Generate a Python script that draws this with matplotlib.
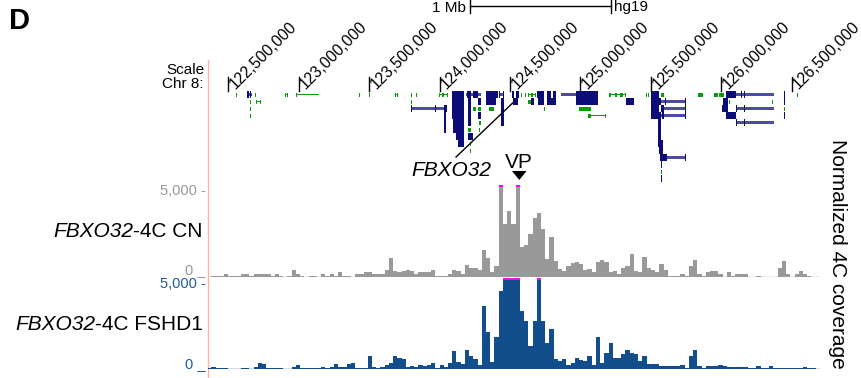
import numpy as np
import matplotlib.pyplot as plt
from matplotlib.transforms import offset_copy

plt.rcParams["font.family"] = "Liberation Sans"

# chr8 window (Mb, hg19)
view_start, view_end = 122.356, 126.701
bin_size = 0.03
bin_first = 122.35
vp_pos = 124.566

tick_pos = [122.5, 123.0, 123.5, 124.0, 124.5, 125.0, 125.5, 126.0, 126.5]
tick_labels = ["122,500,000", "123,000,000", "123,500,000", "124,000,000",
               "124,500,000", "125,000,000", "125,500,000", "126,000,000",
               "126,500,000"]

# normalized 4C coverage per 30 kb bin (values above 5000 are clipped)
cn_cov = [
    0, 60, 60, 60, 170, 60, 60, 60, 120, 120,
    60, 170, 120, 120, 170, 60, 120, 60, 0, 60,
    350, 170, 60, 0, 60, 60, 0, 120, 60, 170,
    60, 230, 60, 60, 0, 120, 120, 230, 230, 170,
    120, 170, 350, 1040, 290, 230, 290, 350, 290, 170,
    230, 230, 230, 350, 60, 60, 60, 170, 350, 290,
    170, 640, 460, 460, 350, 1450, 1040, 230, 580, 5600,
    2900, 3600, 2900, 5600, 1620, 1740, 2320, 3190, 3480, 2610,
    990, 2150, 870, 410, 290, 580, 750, 810, 700, 350,
    410, 230, 810, 930, 810, 230, 290, 170, 460, 580,
    1220, 290, 230, 1100, 460, 350, 230, 700, 350, 60,
    60, 60, 120, 60, 580, 930, 120, 60, 230, 290,
    290, 120, 0, 230, 60, 120, 120, 120, 0, 0,
    60, 0, 0, 0, 0, 460, 870, 170, 0, 120,
    290, 120, 60, 0, 0,
]
fshd_cov = [
    60, 120, 60, 60, 60, 0, 0, 0, 60, 60,
    0, 120, 350, 290, 60, 60, 60, 60, 0, 0,
    120, 230, 60, 60, 60, 60, 60, 120, 60, 120,
    290, 120, 120, 290, 350, 60, 60, 60, 700, 120,
    60, 120, 230, 350, 750, 640, 580, 120, 170, 120,
    230, 170, 230, 350, 60, 230, 120, 350, 990, 410,
    290, 1040, 700, 580, 230, 3480, 2030, 410, 1740, 4300,
    5600, 5600, 5600, 5600, 3190, 2610, 1280, 2610, 5600, 2610,
    1450, 2200, 580, 460, 580, 230, 350, 640, 520, 460,
    750, 230, 1740, 350, 870, 1450, 640, 640, 810, 1040,
    870, 810, 460, 700, 290, 290, 290, 170, 170, 170,
    170, 170, 230, 60, 700, 1040, 170, 60, 170, 170,
    170, 230, 170, 120, 120, 120, 120, 120, 60, 60,
    170, 60, 60, 170, 60, 60, 60, 60, 60, 60,
    60, 120, 60, 60, 0,
]

# gene annotation features: (start Mb, end Mb, row)
blue_exons = [
    (122.631, 122.647, 0), (122.657, 122.661, 0), (124.086, 124.176, 0),
    (124.198, 124.223, 0), (124.236, 124.271, 0), (124.330, 124.413, 0),
    (124.424, 124.428, 0), (124.450, 124.460, 0), (124.514, 124.530, 0),
    (124.540, 124.562, 0), (124.692, 124.745, 0), (124.760, 124.790, 0),
    (124.805, 124.827, 0), (124.969, 125.123, 0), (125.501, 125.560, 0),
    (126.034, 126.105, 0), (126.140, 126.145, 0), (126.160, 126.165, 0),
    (126.372, 126.377, 0), (126.446, 126.450, 0),
    (124.031, 124.035, 1), (124.045, 124.049, 1), (124.086, 124.176, 1),
    (124.200, 124.223, 1), (124.270, 124.294, 1), (124.330, 124.401, 1),
    (124.436, 124.460, 1), (124.519, 124.555, 1), (124.649, 124.673, 1),
    (124.697, 124.745, 1), (124.760, 124.827, 1), (124.969, 125.123, 1),
    (125.324, 125.382, 1), (125.501, 125.572, 1), (125.600, 125.606, 1),
    (125.744, 125.750, 1), (126.010, 126.046, 1), (126.446, 126.450, 1),
    (123.800, 123.804, 2), (123.970, 123.975, 2), (124.028, 124.053, 2),
    (124.086, 124.176, 2), (124.200, 124.223, 2), (124.436, 124.460, 2),
    (125.501, 125.560, 2), (125.572, 125.595, 2), (125.744, 125.750, 2),
    (126.005, 126.046, 2), (126.105, 126.109, 2), (126.160, 126.165, 2),
    (126.372, 126.377, 2),
    (124.031, 124.049, 3), (124.086, 124.176, 3), (124.200, 124.223, 3),
    (124.271, 124.294, 3), (124.436, 124.460, 3), (125.501, 125.572, 3),
    (125.578, 125.595, 3), (125.744, 125.750, 3), (126.034, 126.105, 3),
    (126.446, 126.450, 3),
    (124.031, 124.046, 4), (124.093, 124.176, 4), (124.200, 124.223, 4),
    (124.436, 124.460, 4), (125.549, 125.572, 4), (126.105, 126.109, 4),
    (126.160, 126.165, 4), (126.372, 126.377, 4),
    (124.031, 124.046, 5), (124.093, 124.176, 5), (125.549, 125.572, 5),
    (124.117, 124.176, 6), (124.200, 124.236, 6), (125.549, 125.572, 6),
    (124.130, 124.176, 7), (125.549, 125.584, 7),
    (125.560, 125.584, 8), (125.567, 125.615, 9), (125.744, 125.750, 9),
    (125.570, 125.576, 10), (125.570, 125.576, 12),
]
blue_introns = [
    (122.647, 122.666, 0), (124.188, 124.294, 0), (124.424, 124.460, 0),
    (124.862, 124.969, 0), (126.105, 126.377, 0),
    (125.572, 125.750, 1),
    (123.802, 124.031, 2), (125.572, 125.750, 2), (126.105, 126.377, 2),
    (125.572, 125.750, 3), (126.105, 126.377, 4), (125.615, 125.750, 9),
]
green_exons = [
    (122.556, 122.560, 0), (122.693, 122.699, 0), (122.903, 122.907, 0),
    (122.918, 122.922, 0), (122.979, 122.985, 0), (122.993, 122.997, 0),
    (123.142, 123.146, 0), (123.428, 123.432, 0), (123.440, 123.444, 0),
    (123.499, 123.503, 0), (123.684, 123.688, 0), (123.690, 123.694, 0),
    (123.701, 123.705, 0), (123.800, 123.804, 0), (123.830, 123.838, 0),
    (123.859, 123.863, 0), (123.998, 124.002, 0), (124.020, 124.030, 0),
    (124.050, 124.058, 0), (124.578, 124.582, 0), (124.605, 124.614, 0),
    (124.626, 124.632, 0), (124.650, 124.662, 0), (124.680, 124.685, 0),
    (125.205, 125.215, 0), (125.245, 125.260, 0), (125.280, 125.300, 0),
    (125.318, 125.324, 0), (125.466, 125.470, 0), (125.480, 125.489, 0),
    (125.575, 125.596, 0), (125.833, 125.868, 0), (125.951, 125.974, 0),
    (125.986, 126.022, 0), (126.541, 126.545, 0),
    (122.657, 122.663, 1), (122.697, 122.701, 1), (122.726, 122.730, 1),
    (123.683, 123.687, 1), (123.717, 123.721, 1), (123.800, 123.804, 1),
    (124.626, 124.649, 1), (124.944, 124.948, 1), (125.464, 125.468, 1),
    (125.960, 125.964, 1), (126.055, 126.059, 1), (126.103, 126.107, 1),
    (126.280, 126.284, 1), (126.363, 126.367, 1),
    (122.657, 122.661, 2), (124.236, 124.259, 2), (124.271, 124.294, 2),
    (124.353, 124.389, 2), (124.742, 124.746, 2), (124.992, 125.075, 2),
    (126.446, 126.450, 2),
    (122.657, 122.661, 3), (125.052, 125.075, 3), (125.178, 125.182, 3),
    (122.660, 122.663, 4), (124.282, 124.294, 4),
    (124.200, 124.223, 5), (124.282, 124.286, 5),
    (124.216, 124.220, 7), (124.216, 124.220, 8), (125.570, 125.576, 11),
]
green_introns = [
    (122.903, 122.922, 0), (122.979, 123.146, 0), (123.684, 123.705, 0),
    (123.998, 124.058, 0), (124.626, 124.685, 0), (125.205, 125.324, 0),
    (122.697, 122.730, 1), (125.052, 125.182, 3),
]

W, H = 862, 378
GRAY = "#999999"
BLUE = "#124e8c"
BLUE_TXT = "#1f5c9a"
NAVY = "#0c0c78"
GREEN = "#0b9a0b"
MAGENTA = "#ff00ff"


def box(l, t, r, b):
    # pixel box -> figure fraction
    return [l / W, 1 - b / H, (r - l) / W, (b - t) / H]


fig = plt.figure(figsize=(W / 100, H / 100), dpi=100)
renderer = fig.canvas.get_renderer()

# overlay for free text, in pixels
ax0 = fig.add_axes([0, 0, 1, 1])
ax0.set_xlim(0, W)
ax0.set_ylim(H, 0)
ax0.axis("off")

ax0.text(20, 21, "D", fontsize=21, fontweight="bold", ha="center", va="center")
ax0.plot([208, 208], [60, H], color="#ffb0b0", lw=1)

# scale bar
ax0.plot([470, 611], [6, 6], color="black", lw=1)
ax0.plot([470, 470], [0, 13], color="black", lw=1)
ax0.plot([611, 611], [0, 13], color="black", lw=1)
ax0.text(466, 11.5, "1 Mb", fontsize=11, ha="right", va="baseline")
ax0.text(614, 11.5, "hg19", fontsize=11, ha="left", va="baseline")

ax0.text(204, 74, "Scale", fontsize=11, ha="right", va="baseline")
ax0.text(204, 88.5, "Chr 8:", fontsize=11, ha="right", va="baseline")


def track_label(x, y, ital, rest):
    t = ax0.text(x, y, rest, fontsize=15, ha="right", va="center")
    w = t.get_window_extent(renderer).width
    ax0.text(x - w, y, ital, fontsize=15, style="italic", ha="right", va="center")


ax0.text(206, 191, "5,000 -", fontsize=10.5, color=GRAY, ha="right", va="center")
ax0.text(206, 274.5, "0 _", fontsize=10.5, color=GRAY, ha="right", va="baseline")
track_label(203, 231.5, "FBXO32", "-4C CN")
ax0.text(206, 284, "5,000 -", fontsize=10.5, color=BLUE_TXT, ha="right", va="center")
ax0.text(206, 368, "0 _", fontsize=10.5, color=BLUE_TXT, ha="right", va="baseline")
track_label(203, 325, "FBXO32", "-4C FSHD1")
ax0.text(838, 253.5, "Normalized 4C coverage", fontsize=15, rotation=-90,
         ha="center", va="center")

# gene track (y in pixel rows)
ag = fig.add_axes(box(208, 60, 820, 190))
ag.set_xlim(view_start, view_end)
ag.set_ylim(190, 60)
ag.axis("off")


def row_y(r):
    return 94.5 + 7 * r


for s, e, r in blue_introns:
    ag.barh(row_y(r), e - s, left=s, height=2.2, color="#4c4ca0", linewidth=0)
for s, e, r in green_introns:
    ag.barh(row_y(r), e - s, left=s, height=1.2, color=GREEN, linewidth=0)
for s, e, r in blue_exons:
    ag.barh(row_y(r), e - s, left=s, height=6.6, color=NAVY, linewidth=0)
for s, e, r in green_exons:
    ag.barh(row_y(r), e - s, left=s, height=4, color=GREEN, linewidth=0)

lab_tr = offset_copy(ag.transData, fig=fig, x=7, y=0, units="dots")
for p, lab in zip(tick_pos, tick_labels):
    ag.plot([p, p], [77, 90.7], color="black", lw=1)
    ag.text(p, 90, lab, fontsize=11.3, rotation=45, rotation_mode="anchor",
            ha="left", va="baseline", transform=lab_tr, clip_on=False)

ag.plot([124.117, 124.519], [157, 103], color="black", lw=1)
ag.text(123.80, 176.5, "FBXO32", fontsize=15, style="italic", ha="left",
        va="baseline")
ag.text(vp_pos, 168.3, "VP", fontsize=15, ha="center", va="baseline")
ag.fill([vp_pos - 0.052, vp_pos + 0.052, vp_pos], [171, 171, 180],
        color="black", lw=0)

# coverage tracks
n = len(cn_cov)
starts = bin_first + bin_size * np.arange(n)


def track(rect, vals, color):
    ax = fig.add_axes(rect)
    vals = np.array(vals)
    ax.bar(starts, np.minimum(vals, 5000), width=bin_size, align="edge",
           color=color, linewidth=0)
    clipped = vals > 5000
    ax.bar(starts[clipped], 110, bottom=4890, width=bin_size, align="edge",
           color=MAGENTA, linewidth=0)
    ax.axhline(0, color=color, lw=1)
    ax.set_xlim(view_start, view_end)
    ax.set_ylim(0, 5000)
    ax.axis("off")
    return ax


track(box(208, 185, 820, 276.7), cn_cov, GRAY)
track(box(208, 277.7, 820, 369.3), fshd_cov, BLUE)

fig.savefig("out.png", dpi=100)
